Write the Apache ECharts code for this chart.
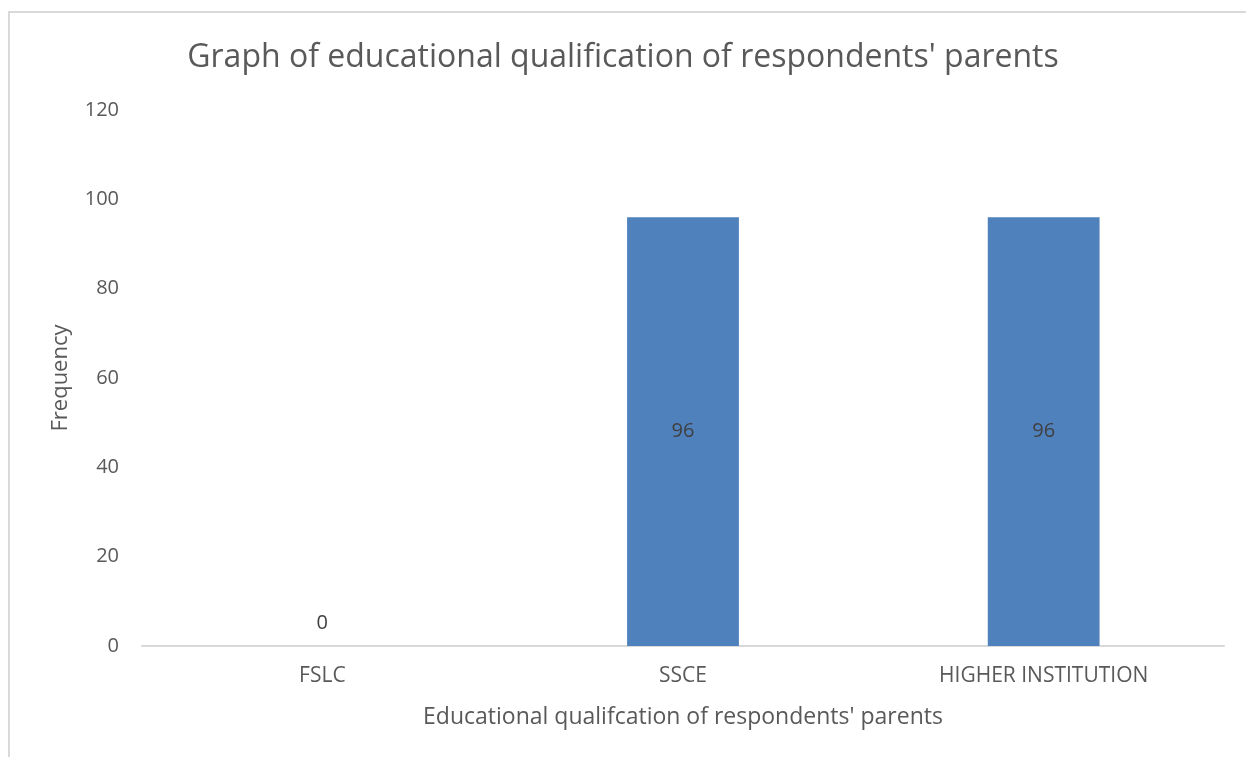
<!DOCTYPE html>
<html>
<head>
<meta charset="utf-8">
<script src="https://cdn.jsdelivr.net/npm/echarts@6/dist/echarts.min.js"></script>
<style>
  html, body { margin: 0; padding: 0; background: #fff; }
  #frame {
    position: absolute; left: 8px; top: 11px; right: -2px; bottom: -2px;
    border-left: 2px solid #d9d9d9; border-top: 2px solid #d9d9d9;
  }
  #chart { position: absolute; left: 0; top: 0; width: 1246px; height: 757px; }
</style>
</head>
<body>
<div id="frame"></div>
<div id="chart"></div>
<script>
const categories = ['FSLC', 'SSCE', 'HIGHER INSTITUTION']
const frequency = [0, 96, 96]
const yTicks = { min: 0, max: 120, interval: 20 }

const font = '"Open Sans", "Noto Sans", sans-serif'
const textColor = '#595959'

const chart = echarts.init(document.getElementById('chart'))

// zero bar gets its label above the baseline, like the original
const seriesData = frequency.map((v) => ({
  value: v,
  label: v === 0
    ? { position: 'top', distance: 13 }
    : { position: 'inside' },
}))

const option = {
  animation: false,
  title: {
    text: "Graph of educational qualification of respondents' parents",
    left: 'center',
    top: 37,
    textStyle: {
      fontFamily: font,
      fontSize: 32,
      fontWeight: 'normal',
      color: textColor,
    },
  },
  grid: {
    left: 142,
    right: 22,
    top: 110,
    bottom: 111,
  },
  xAxis: {
    type: 'category',
    data: categories,
    name: "Educational qualifcation of respondents' parents",
    nameLocation: 'middle',
    nameGap: 60,
    nameTextStyle: { fontFamily: font, fontSize: 23, color: textColor },
    axisLine: { lineStyle: { color: '#d9d9d9', width: 2 } },
    axisTick: { show: false },
    axisLabel: { fontFamily: font, fontSize: 21, color: textColor, margin: 20 },
  },
  yAxis: {
    type: 'value',
    min: yTicks.min,
    max: yTicks.max,
    interval: yTicks.interval,
    name: 'Frequency',
    nameLocation: 'middle',
    nameGap: 70,
    nameRotate: 90,
    nameTextStyle: { fontFamily: font, fontSize: 22, color: textColor },
    axisLine: { show: false },
    axisTick: { show: false },
    splitLine: { show: false },
    axisLabel: { fontFamily: font, fontSize: 20, color: textColor, margin: 23 },
  },
  series: [
    {
      type: 'bar',
      data: seriesData,
      barWidth: '31%',
      itemStyle: { color: '#4f81bd' },
      label: {
        show: true,
        fontFamily: font,
        fontSize: 20,
        color: '#404040',
      },
    },
  ],
}

chart.setOption(option)
</script>
</body>
</html>
